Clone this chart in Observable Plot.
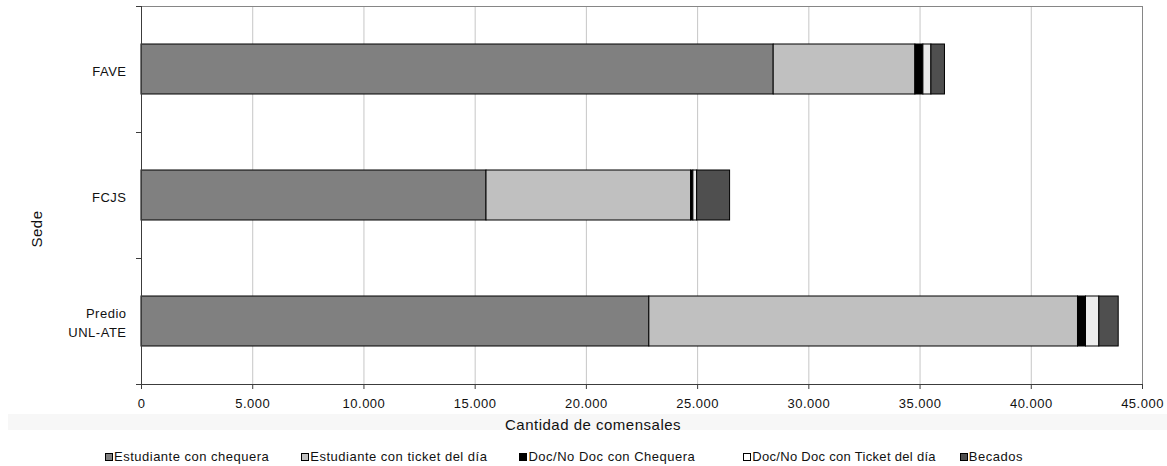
<!DOCTYPE html>
<html>
<head>
<meta charset="utf-8">
<script src="https://cdn.jsdelivr.net/npm/d3@7"></script>
<script src="https://cdn.jsdelivr.net/npm/@observablehq/plot@0.6"></script>
<style>
  body { margin: 0; background: #fff; font-family: "Liberation Sans", Arial, sans-serif; }
  #wrap { position: relative; width: 1167px; height: 466px; overflow: hidden; background: #fff; }
  #band { position: absolute; left: 8px; top: 414px; width: 1159px; height: 16px; background: #f7f7f7; }
  #chart { position: absolute; left: 0; top: 0; }
  #legend { position: absolute; left: 105px; top: 449px; display: flex; font-size: 13px;
            letter-spacing: 0.5px; color: #111; white-space: nowrap; line-height: 16px; }
  .item { display: flex; align-items: center; margin-right: 32px; }
  .item.i2 { margin-right: 48px; }
  .item.i3 { margin-right: 24px; letter-spacing: 0.3px; }
  .sw { width: 6px; height: 6px; border: 1px solid #000; margin-right: 1px; box-sizing: content-box; }
</style>
</head>
<body>
<div id="wrap"><div id="band"></div><div id="chart"></div><div id="legend"></div></div>
<script>
// ---- data ----
const sedes = ["FAVE", "FCJS", "Predio UNL-ATE"];
const series = [
  "Estudiante con chequera",
  "Estudiante con ticket del día",
  "Doc/No Doc con Chequera",
  "Doc/No Doc con Ticket del día",
  "Becados"
];
const estudianteChequera = [28420, 15510, 22830];
const estudianteTicket   = [6370, 9200, 19270];
const docChequera        = [360, 100, 360];
const docTicket          = [360, 170, 600];
const becados            = [610, 1480, 870];
const xTicks = [0, 5000, 10000, 15000, 20000, 25000, 30000, 35000, 40000, 45000];
const colors = ["#808080", "#c0c0c0", "#000000", "#ececec", "#4f4f4f"];
const xTitle = "Cantidad de comensales";
const yTitle = "Sede";

const seriesValues = [estudianteChequera, estudianteTicket, docChequera, docTicket, becados];
const rows = [];
sedes.forEach((s, i) => series.forEach((k, j) => rows.push({sede: s, serie: k, value: seriesValues[j][i]})));

const fmt = d => d3.format(",")(d).replace(/,/g, ".");

function axisExtras(...args) {
  const dims = args.find(a => a && a.marginLeft !== undefined && a.width !== undefined);
  const scales = args.find(a => a && typeof a.y === "function" && typeof a.x === "function");
  const g = d3.create("svg:g");
  const xl = dims.marginLeft, xr = dims.width - dims.marginRight;
  const yb = dims.height - dims.marginBottom;
  const step = scales.y(sedes[1]) - scales.y(sedes[0]);
  const ys = sedes.map(s => scales.y(s) - 0.3 * step).concat([yb]);
  g.append("line").attr("x1", xl).attr("x2", xr).attr("y1", yb + 0.5).attr("y2", yb + 0.5)
    .attr("stroke", "#3c3c3c");
  ys.forEach(y => g.append("line").attr("x1", xl - 5).attr("x2", xl).attr("y1", Math.round(y) + 0.5)
    .attr("y2", Math.round(y) + 0.5).attr("stroke", "#3c3c3c"));
  return g.node();
}

const chart = Plot.plot({
  width: 1167,
  height: 444,
  marginTop: 6,
  marginBottom: 60,
  marginLeft: 141,
  marginRight: 25,
  style: {fontFamily: "'Liberation Sans', Arial, sans-serif", fontSize: "13px", color: "#111", letterSpacing: "0.5px", background: "transparent"},
  x: {domain: [0, 45000], ticks: xTicks, tickFormat: fmt},
  y: {domain: sedes, paddingInner: 0.6, paddingOuter: 0.3, align: 0.5},
  color: {domain: series, range: colors},
  marks: [
    Plot.gridX(xTicks.filter(d => d > 0 && d < 45000), {stroke: "#c6c6c6", strokeOpacity: 1}),
    Plot.frame({stroke: "#868686"}),
    Plot.rectX(rows, Plot.stackX({x: "value", y: "sede", fill: "serie", stroke: "#000", strokeWidth: 1, order: null})),
    Plot.ruleX([0], {stroke: "#3c3c3c"}),
    Plot.axisX({ticks: xTicks, tickFormat: fmt, tickSize: 5, tickPadding: 9, label: null, stroke: "#3c3c3c"}),
    Plot.axisY({tickSize: 0, tickPadding: 15, label: null, lineHeight: 1.45,
                tickFormat: d => d === "Predio UNL-ATE" ? "Predio\nUNL-ATE" : d}),
    axisExtras,
    Plot.text([yTitle], {frameAnchor: "left", text: d => d, rotate: -90, dx: -104, dy: 52, fontSize: 15}),
    Plot.text([xTitle], {frameAnchor: "bottom", text: d => d, dx: -49, dy: 45, fontSize: 15})
  ]
});
document.getElementById("chart").appendChild(chart);

const legend = d3.select("#legend");
series.forEach((s, i) => {
  const it = legend.append("div").attr("class", "item i" + i);
  it.append("div").attr("class", "sw").style("background", colors[i] === "#ececec" ? "#fff" : colors[i]);
  it.append("span").text(s);
});
</script>
</body>
</html>
